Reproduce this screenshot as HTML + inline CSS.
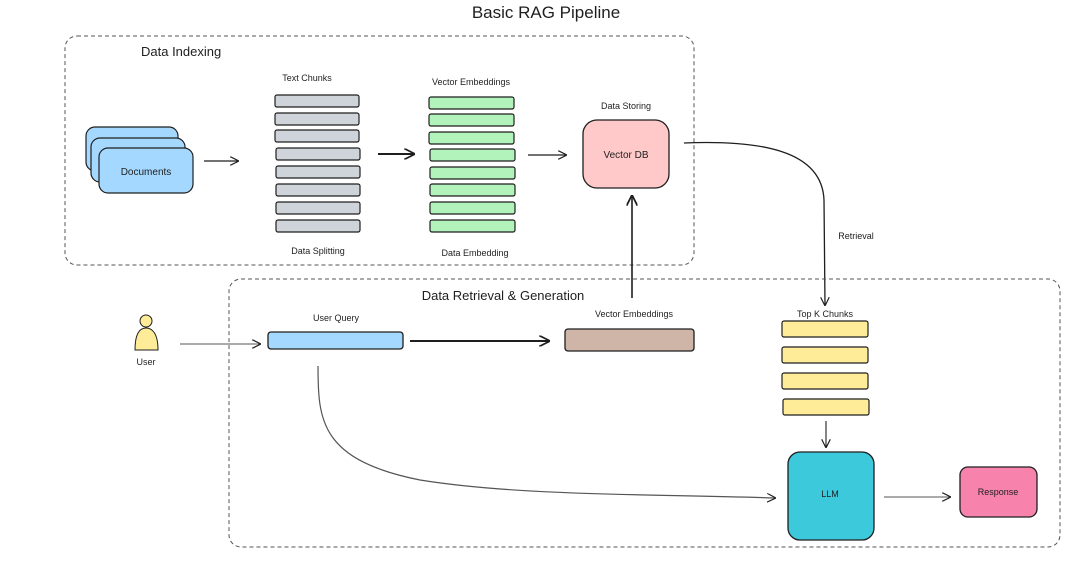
<!DOCTYPE html>
<html><head><meta charset="utf-8"><style>
html,body{margin:0;padding:0;background:#fff;width:1080px;height:564px;overflow:hidden}
text{font-family:"Liberation Sans",sans-serif;fill:#1e1e1e}
</style></head><body>
<svg width="1080" height="564" viewBox="0 0 1080 564" xmlns="http://www.w3.org/2000/svg">
<defs>
<marker id="a" viewBox="0 0 10 10" refX="9" refY="5" markerWidth="9" markerHeight="9" orient="auto-start-reverse" markerUnits="userSpaceOnUse"><path d="M0,0 L10,5 L0,10" fill="none" stroke="#1e1e1e" stroke-width="1.3"/></marker>
<marker id="b" viewBox="0 0 10 10" refX="9" refY="5" markerWidth="11" markerHeight="11" orient="auto-start-reverse" markerUnits="userSpaceOnUse"><path d="M0,0 L10,5 L0,10" fill="none" stroke="#1e1e1e" stroke-width="1.6"/></marker>
</defs>
<text x="546" y="18" font-size="17" text-anchor="middle">Basic RAG Pipeline</text>
<rect x="65" y="36" width="629" height="229" rx="12" fill="none" stroke="#555" stroke-width="1" stroke-dasharray="4 3"/>
<text x="141" y="56" font-size="13">Data Indexing</text>
<g stroke="#1e1e1e" stroke-width="1.2" fill="#a5d8ff">
<rect x="86" y="127" width="92" height="44" rx="9"/>
<rect x="91" y="138" width="94" height="44" rx="9"/>
<rect x="99" y="148" width="94" height="45" rx="9"/>
</g>
<text x="146" y="175" font-size="10" text-anchor="middle">Documents</text>
<line x1="204" y1="161" x2="238" y2="161" stroke="#1e1e1e" stroke-width="1.2" marker-end="url(#a)"/>
<text x="307" y="81" font-size="9" text-anchor="middle">Text Chunks</text>
<g stroke="#1e1e1e" stroke-width="1.2" fill="#ced4da">
<rect x="275" y="95" width="84" height="12" rx="2"/>
<rect x="275" y="113" width="84" height="12" rx="2"/>
<rect x="275" y="130" width="84" height="12" rx="2"/>
<rect x="276" y="148" width="84" height="12" rx="2"/>
<rect x="276" y="166" width="84" height="12" rx="2"/>
<rect x="276" y="184" width="84" height="12" rx="2"/>
<rect x="276" y="202" width="84" height="12" rx="2"/>
<rect x="276" y="220" width="84" height="12" rx="2"/>
</g>
<text x="318" y="254" font-size="9" text-anchor="middle">Data Splitting</text>
<line x1="378" y1="154" x2="414" y2="154" stroke="#1e1e1e" stroke-width="2" marker-end="url(#b)"/>
<text x="471" y="85" font-size="9" text-anchor="middle">Vector Embeddings</text>
<g stroke="#1e1e1e" stroke-width="1.2" fill="#b2f2bb">
<rect x="429" y="97" width="85" height="12" rx="2"/>
<rect x="429" y="114" width="85" height="12" rx="2"/>
<rect x="429" y="132" width="85" height="12" rx="2"/>
<rect x="430" y="149" width="85" height="12" rx="2"/>
<rect x="430" y="167" width="85" height="12" rx="2"/>
<rect x="430" y="184" width="85" height="12" rx="2"/>
<rect x="430" y="202" width="85" height="12" rx="2"/>
<rect x="430" y="220" width="85" height="12" rx="2"/>
</g>
<text x="475" y="256" font-size="9" text-anchor="middle">Data Embedding</text>
<line x1="528" y1="155" x2="566" y2="155" stroke="#1e1e1e" stroke-width="1.2" marker-end="url(#a)"/>
<text x="626" y="109" font-size="9" text-anchor="middle">Data Storing</text>
<rect x="583" y="120" width="86" height="68" rx="14" fill="#ffc9c9" stroke="#1e1e1e" stroke-width="1.3"/>
<text x="626" y="158" font-size="10" text-anchor="middle">Vector DB</text>
<path d="M684,143 C760,140 822,150 824,200 L825,305" fill="none" stroke="#1e1e1e" stroke-width="1.3" marker-end="url(#a)"/>
<text x="856" y="239" font-size="9" text-anchor="middle">Retrieval</text>
<line x1="632" y1="298" x2="632" y2="196" stroke="#1e1e1e" stroke-width="1.6" marker-end="url(#b)"/>
<rect x="229" y="279" width="831" height="268" rx="12" fill="none" stroke="#555" stroke-width="1" stroke-dasharray="4 3"/>
<text x="503" y="300" font-size="13" text-anchor="middle">Data Retrieval &amp; Generation</text>
<circle cx="146" cy="321" r="6" fill="#ffec99" stroke="#1e1e1e" stroke-width="1"/>
<path d="M135,350 C135,333 140,328 146,328 C152,328 158,333 158,350 Z" fill="#ffec99" stroke="#1e1e1e" stroke-width="1"/>
<text x="146" y="365" font-size="9" text-anchor="middle">User</text>
<line x1="180" y1="344" x2="260" y2="344" stroke="#555" stroke-width="1.1" marker-end="url(#a)"/>
<text x="336" y="321" font-size="9" text-anchor="middle">User Query</text>
<rect x="268" y="332" width="135" height="17" rx="3" fill="#a5d8ff" stroke="#1e1e1e" stroke-width="1.3"/>
<line x1="410" y1="341" x2="549" y2="341" stroke="#1e1e1e" stroke-width="2" marker-end="url(#b)"/>
<text x="634" y="317" font-size="9" text-anchor="middle">Vector Embeddings</text>
<rect x="565" y="329" width="129" height="22" rx="3" fill="#cfb5a8" stroke="#1e1e1e" stroke-width="1.3"/>
<text x="825" y="317" font-size="9" text-anchor="middle">Top K Chunks</text>
<g stroke="#1e1e1e" stroke-width="1.2" fill="#ffec99">
<rect x="782" y="321" width="86" height="16" rx="2"/>
<rect x="782" y="347" width="86" height="16" rx="2"/>
<rect x="782" y="373" width="86" height="16" rx="2"/>
<rect x="783" y="399" width="86" height="16" rx="2"/>
</g>
<line x1="826" y1="421" x2="826" y2="447" stroke="#1e1e1e" stroke-width="1.1" marker-end="url(#a)"/>
<rect x="788" y="452" width="86" height="88" rx="12" fill="#3bc9db" stroke="#1e1e1e" stroke-width="1.3"/>
<text x="830" y="497" font-size="9" text-anchor="middle">LLM</text>
<line x1="884" y1="497" x2="950" y2="497" stroke="#555" stroke-width="1.1" marker-end="url(#a)"/>
<rect x="960" y="467" width="77" height="50" rx="8" fill="#f783ac" stroke="#1e1e1e" stroke-width="1.3"/>
<text x="998" y="495" font-size="9" text-anchor="middle">Response</text>
<path d="M318,366 C318,420 320,460 420,480 C520,496 650,494 775,498" fill="none" stroke="#555" stroke-width="1.2" marker-end="url(#a)"/>
</svg>
</body></html>
